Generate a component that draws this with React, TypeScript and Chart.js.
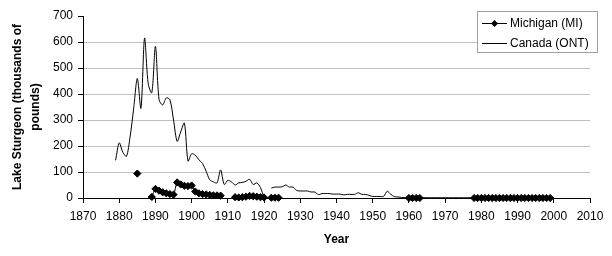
import React, { useEffect, useRef } from "react";
import { Chart, registerables } from "chart.js";

Chart.register(...registerables);

const canadaYears: number[] = [
  1879, 1880, 1881, 1882, 1883, 1884, 1885, 1886, 1887, 1888, 1889,
  1890, 1891, 1892, 1893, 1894, 1895, 1896, 1897, 1898, 1899,
  1900, 1901, 1902, 1903, 1904, 1905, 1906, 1907, 1908, 1909,
  1910, 1911, 1912, 1913, 1914, 1915, 1916, 1917, 1918, 1919,
  1920, 1921, 1922, 1923, 1924, 1925, 1926, 1927, 1928, 1929,
  1930, 1931, 1932, 1933, 1934, 1935, 1936, 1937, 1938, 1939,
  1940, 1941, 1942, 1943, 1944, 1945, 1946, 1947, 1948, 1949,
  1950, 1951, 1952, 1953, 1954, 1955, 1956, 1957, 1958, 1959,
  1960, 1961, 1962, 1963, 1964, 1965, 1966, 1967, 1968, 1969,
  1970, 1971, 1972, 1973, 1974, 1975, 1976, 1977, 1978, 1979,
  1980, 1981, 1982, 1983, 1984, 1985, 1986, 1987, 1988, 1989,
  1990, 1991, 1992, 1993, 1994, 1995, 1996, 1997, 1998, 1999,
];
const canadaValues: (number | null)[] = [
  145, 212, 176, 160, 235, 345, 460, 345, 615, 440, 405,
  583, 378, 358, 385, 378, 300, 218, 255, 288, 142,
  170, 165, 147, 133, 103, 70, 62, 58, 108, 52,
  68, 62, 50, 58, 60, 64, 72, 52, 58, 40,
  0, null, 38, 42, 42, 43, 50, 42, 42, 29,
  27, 27, 27, 23, 23, 13, 17, 17, 17, 15,
  15, 15, 12, 14, 14, 14, 20, 14, 14, 10,
  6, 6, 6, 6, 26, 14, 5, 4, 2, 1,
  1, 1, 1, 1, 1, 1, 1, 1, 1, 1,
  1, 1, 1, 1, 1, 1, 1, 1, 0, 0,
  0, 0, 0, 0, 0, 0, 0, 0, 0, 0,
  0, 0, 0, 0, 0, 0, 0, 0, 0, 0,
];

const michiganYears: number[] = [
  1885, 1886, 1887, 1888, 1889,
  1890, 1891, 1892, 1893, 1894, 1895, 1896, 1897, 1898, 1899,
  1900, 1901, 1902, 1903, 1904, 1905, 1906, 1907, 1908, 1909,
  1910, 1911, 1912, 1913, 1914, 1915, 1916, 1917, 1918, 1919,
  1920, 1921, 1922, 1923, 1924, 1925,
  1959, 1960, 1961, 1962, 1963, 1964,
  1977, 1978, 1979, 1980, 1981, 1982, 1983, 1984, 1985, 1986, 1987, 1988,
  1989, 1990, 1991, 1992, 1993, 1994, 1995, 1996, 1997, 1998, 1999,
];
const michiganValues: (number | null)[] = [
  94, null, null, null, 4,
  35, 28, 22, 18, 15, 13, 60, 52, 47, 46,
  48, 25, 18, 15, 14, 12, 10, 10, 9, null,
  null, null, 3, 2, 3, 5, 8, 7, 5, 3,
  2, null, 1, 1, 1, null,
  null, 0, 0, 0, 0, null,
  null, 0, 0, 0, 0, 0, 0, 0, 0, 0, 0, 0,
  0, 0, 0, 0, 0, 0, 0, 0, 0, 0, 0,
];

const xTicks: number[] = [1870, 1880, 1890, 1900, 1910, 1920, 1930, 1940, 1950, 1960, 1970, 1980, 1990, 2000, 2010];
const yTicks: number[] = [0, 100, 200, 300, 400, 500, 600, 700];

const seriesNames: string[] = ["Michigan (MI)", "Canada (ONT)"];
const yTitle: string[] = ["Lake Sturgeon (thousands of", "pounds)"];
const xTitle = "Year";

const FONT = "'Liberation Sans', Arial, sans-serif";

const legendPlugin = {
  id: "boxLegend",
  afterDraw(chart: any) {
    const ctx = chart.ctx;
    const x = 477.5, y = 11.5, w = 120, h = 41;
    ctx.save();
    ctx.fillStyle = "#ffffff";
    ctx.fillRect(x, y, w, h);
    ctx.strokeStyle = "#a0a0a0";
    ctx.lineWidth = 1;
    ctx.strokeRect(x, y, w, h);
    const rows = [y + 11.5, y + 31];
    ctx.strokeStyle = "#000";
    ctx.fillStyle = "#000";
    rows.forEach((ry, i) => {
      const yy = Math.round(ry) + 0.5;
      ctx.beginPath();
      ctx.moveTo(482, yy);
      ctx.lineTo(507, yy);
      ctx.stroke();
      if (i === 0) {
        ctx.beginPath();
        ctx.moveTo(494.5, yy - 3.5);
        ctx.lineTo(498, yy);
        ctx.lineTo(494.5, yy + 3.5);
        ctx.lineTo(491, yy);
        ctx.closePath();
        ctx.fill();
      }
      ctx.font = `12px ${FONT}`;
      ctx.textAlign = "left";
      ctx.textBaseline = "middle";
      ctx.fillText(seriesNames[i], 510, yy);
    });
    ctx.restore();
  },
};

export default function App() {
  const ref = useRef<HTMLCanvasElement | null>(null);
  useEffect(() => {
    if (!ref.current) return;
    const michigan = michiganYears.map((yr, i) => ({ x: yr, y: michiganValues[i] }));
    const canada = canadaYears.map((yr, i) => ({ x: yr, y: canadaValues[i] }));
    const chart = new Chart(ref.current, {
      type: "line",
      data: {
        datasets: [
          {
            label: seriesNames[0],
            data: michigan as any,
            borderColor: "#000",
            backgroundColor: "#000",
            borderWidth: 1,
            pointStyle: "rectRot",
            pointRadius: 3.6,
            pointBorderWidth: 1,
            pointBackgroundColor: "#000",
            pointBorderColor: "#000",
            spanGaps: false,
            clip: false as any,
            tension: 0.3,
          },
          {
            label: seriesNames[1],
            data: canada as any,
            borderColor: "#000",
            borderWidth: 1,
            pointRadius: 0,
            spanGaps: false,
            clip: false as any,
            tension: 0.3,
          },
        ],
      },
      options: {
        responsive: false,
        animation: false,
        layout: { padding: { left: 0, top: 16, right: 22, bottom: 0 } },
        plugins: {
          legend: { display: false },
          tooltip: { enabled: false },
        },
        scales: {
          x: {
            type: "linear",
            min: xTicks[0],
            max: xTicks[xTicks.length - 1],
            afterBuildTicks: (s: any) => {
              s.ticks = xTicks.map((v) => ({ value: v }));
            },
            afterFit: (s: any) => {
              s.height = 58;
            },
            ticks: {
              autoSkip: false,
              maxRotation: 0,
              padding: 6,
              color: "#000",
              font: { family: FONT, size: 12 },
              callback: (v: any) => String(v),
            },
            grid: {
              drawOnChartArea: false,
              drawTicks: true,
              tickLength: 5,
              tickColor: "#000",
              color: "#000",
            },
            border: { color: "#000", width: 1 },
            title: {
              display: true,
              text: xTitle,
              color: "#000",
              font: { family: FONT, size: 12, weight: "bold" },
              padding: { top: 0, bottom: 9 },
            },
          },
          y: {
            type: "linear",
            min: yTicks[0],
            max: yTicks[yTicks.length - 1],
            afterBuildTicks: (s: any) => {
              s.ticks = yTicks.map((v) => ({ value: v }));
            },
            afterFit: (s: any) => {
              s.width = 83;
            },
            ticks: {
              padding: 5,
              color: "#000",
              font: { family: FONT, size: 12 },
            },
            grid: {
              color: (c: any) => (c.tick && c.tick.value === yTicks[yTicks.length - 1] ? "rgba(0,0,0,0)" : "#c0c0c0"),
              tickColor: "#000",
              tickLength: 5,
              lineWidth: 1,
            },
            border: { color: "#000", width: 1 },
            title: {
              display: true,
              text: yTitle,
              color: "#000",
              font: { family: FONT, size: 12, weight: "bold", lineHeight: 1.5 },
              padding: { top: 9, bottom: 0 },
            },
          },
        },
      },
      plugins: [legendPlugin],
    });
    return () => chart.destroy();
  }, []);
  return (
    <div style={{ position: "fixed", left: 0, top: 0, width: 612, height: 256, background: "#fff" }}>
      <canvas ref={ref} width={612} height={256} style={{ display: "block" }} />
    </div>
  );
}
